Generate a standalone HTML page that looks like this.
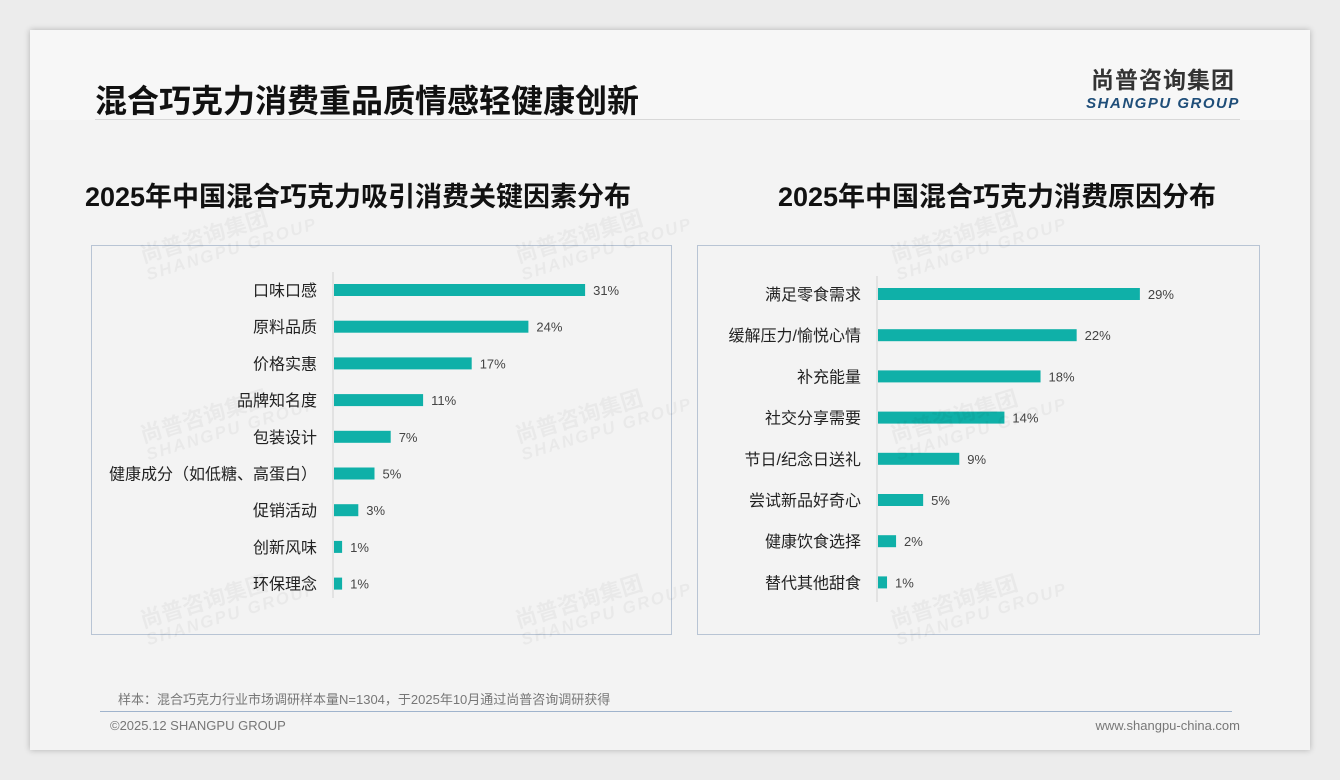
<!DOCTYPE html>
<html><head><meta charset="utf-8">
<style>
body{margin:0;width:1340px;height:780px;background:#ececec;font-family:"Liberation Sans","Noto Sans CJK SC",sans-serif;position:relative;overflow:hidden}
#slide{position:absolute;left:30px;top:30px;width:1280px;height:720px;background:#f3f3f3;box-shadow:0 0 6px rgba(0,0,0,.25)}
.abs{position:absolute;white-space:nowrap}
.wm{position:absolute;transform:rotate(-17deg);color:rgba(0,0,0,.04);font-weight:bold;line-height:20px;font-size:22px;white-space:nowrap}
.wm span{display:block;font-size:17px;font-style:italic;letter-spacing:2px}
.box{position:absolute;border:1px solid #b8c4d4;background:transparent}
.ct{position:absolute;font-size:27px;font-weight:bold;color:#111;text-align:center;white-space:nowrap}
</style></head><body>
<div id="slide">
<div class="abs" style="left:0;top:0;width:1280px;height:90px;background:#f7f7f7"></div>
<div class="abs" style="left:65px;top:46px;font-size:32px;font-weight:bold;color:#111">混合巧克力消费重品质情感轻健康创新</div>
<div class="abs" style="left:1040px;top:31px;width:186px;text-align:center">
<div style="font-size:23px;font-weight:bold;color:#333;letter-spacing:1px">尚普咨询集团</div>
<div style="font-size:15px;font-weight:bold;font-style:italic;color:#1f4e79;letter-spacing:1.5px">SHANGPU GROUP</div></div>
<div class="abs" style="left:65px;top:89px;width:1145px;height:1px;background:#d8d8d8"></div>
<div class="ct" style="left:33px;top:145px;width:590px">2025年中国混合巧克力吸引消费关键因素分布</div>
<div class="ct" style="left:682px;top:145px;width:570px">2025年中国混合巧克力消费原因分布</div>
<div class="box" style="left:61px;top:215px;width:579px;height:388px"></div>
<div class="box" style="left:667px;top:215px;width:561px;height:388px"></div>
<svg id="chart" class="abs" style="left:0;top:0" width="1280" height="720"></svg>
<div class="abs" style="left:88px;top:659px;font-size:13px;color:#777">样本：混合巧克力行业市场调研样本量N=1304，于2025年10月通过尚普咨询调研获得</div>
<div class="abs" style="left:70px;top:681px;width:1132px;height:1px;background:#9fb3cc"></div>
<div class="abs" style="left:80px;top:688px;font-size:13px;color:#777">©2025.12 SHANGPU GROUP</div>
<div class="abs" style="right:70px;top:688px;font-size:13px;color:#777">www.shangpu-china.com</div>
<div class="wm" style="left:110px;top:190px">尚普咨询集团<span>SHANGPU GROUP</span></div>
<div class="wm" style="left:485px;top:190px">尚普咨询集团<span>SHANGPU GROUP</span></div>
<div class="wm" style="left:860px;top:190px">尚普咨询集团<span>SHANGPU GROUP</span></div>
<div class="wm" style="left:110px;top:370px">尚普咨询集团<span>SHANGPU GROUP</span></div>
<div class="wm" style="left:485px;top:370px">尚普咨询集团<span>SHANGPU GROUP</span></div>
<div class="wm" style="left:860px;top:370px">尚普咨询集团<span>SHANGPU GROUP</span></div>
<div class="wm" style="left:110px;top:555px">尚普咨询集团<span>SHANGPU GROUP</span></div>
<div class="wm" style="left:485px;top:555px">尚普咨询集团<span>SHANGPU GROUP</span></div>
<div class="wm" style="left:860px;top:555px">尚普咨询集团<span>SHANGPU GROUP</span></div>
</div>
<script>
const leftCats=["口味口感","原料品质","价格实惠","品牌知名度","包装设计","健康成分（如低糖、高蛋白）","促销活动","创新风味","环保理念"];
const leftVals=[31,24,17,11,7,5,3,1,1];
const rightCats=["满足零食需求","缓解压力/愉悦心情","补充能量","社交分享需要","节日/纪念日送礼","尝试新品好奇心","健康饮食选择","替代其他甜食"];
const rightVals=[29,22,18,14,9,5,2,1];
const NS="http://www.w3.org/2000/svg";
const svg=document.getElementById('chart');
function mk(t,a){const e=document.createElementNS(NS,t);for(const k in a)e.setAttribute(k,a[k]);svg.appendChild(e);return e;}
function draw(cats,vals,x0,pxPer,y0,step,axTop,axBot,side){
  const ax=mk('line',{x1:x0,x2:x0,y1:axTop,y2:axBot,stroke:'#d0d0d0','stroke-width':1});
  
  
  const xs=v=>x0+1+v*pxPer;
  cats.forEach((c,i)=>{
    const yc=y0+i*step;
    const lab=mk('text',{x:x0-16,y:yc+6,'text-anchor':'end','font-size':16,fill:'#222'});
    lab.textContent=c;
    
    
    const b=mk('rect',{x:x0+1,y:yc-6,width:xs(vals[i])-x0-1,height:12,fill:'#0fb0a8'});
    
    
    const t=mk('text',{x:xs(vals[i])+8,y:yc+5,'font-size':13,fill:'#444'});
    t.textContent=vals[i]+'%';
    
    
  });
}
draw(leftCats,leftVals,303,8.1,260,36.7,242,568,'left');
draw(rightCats,rightVals,847,9.03,264,41.2,246,572,'right');
</script>
</body></html>
